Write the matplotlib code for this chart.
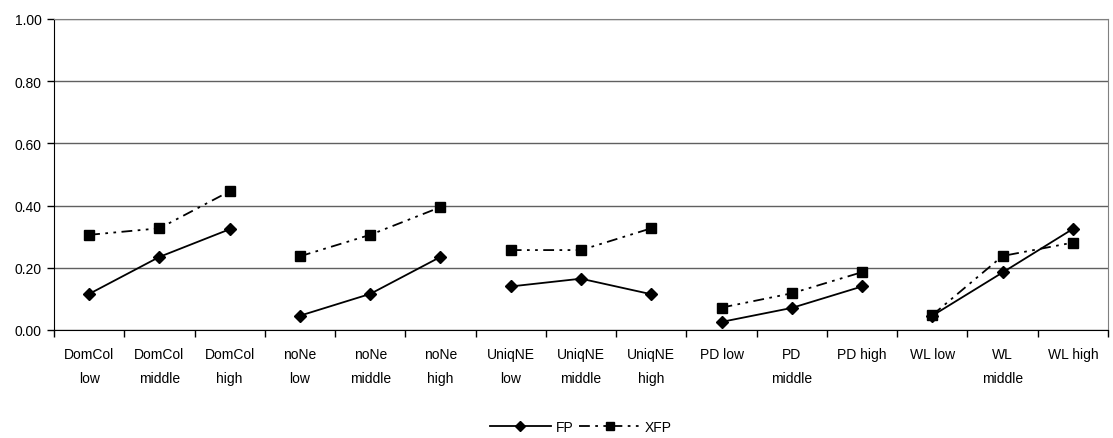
import numpy as np
import matplotlib.pyplot as plt

plt.rcParams['font.family'] = ['Liberation Sans', 'DejaVu Sans']

labels = ['DomCol\nlow', 'DomCol\nmiddle', 'DomCol\nhigh',
          'noNe\nlow', 'noNe\nmiddle', 'noNe\nhigh',
          'UniqNE\nlow', 'UniqNE\nmiddle', 'UniqNE\nhigh',
          'PD low', 'PD\nmiddle', 'PD high',
          'WL low', 'WL\nmiddle', 'WL high']
fp = [0.116, 0.235, 0.324,
      0.046, 0.116, 0.235,
      0.140, 0.165, 0.115,
      0.026, 0.071, 0.140,
      0.046, 0.185, 0.325]
xfp = [0.306, 0.327, 0.446,
       0.237, 0.306, 0.395,
       0.257, 0.257, 0.327,
       0.072, 0.118, 0.186,
       0.048, 0.238, 0.281]
group_size = 3

fig = plt.figure(figsize=(11.13, 4.39), dpi=100)
ax = fig.add_axes([54 / 1113, 1 - 331 / 439, (1108 - 54) / 1113, (331 - 20) / 439])

x = np.arange(len(labels))
for g in range(0, len(labels), group_size):
    sl = slice(g, g + group_size)
    ax.plot(x[sl], fp[sl], color='black', lw=1.3, marker='D', ms=6.5,
            label='FP' if g == 0 else None, zorder=3)
    ax.plot(x[sl], xfp[sl], color='black', lw=1.3, marker='s', ms=7,
            dashes=(6, 3, 1.5, 3, 1.5, 3),
            label='XFP' if g == 0 else None, zorder=3)

ax.set_xlim(-0.5, len(labels) - 0.5)
ax.set_ylim(0, 1.0)
ax.set_yticks(np.arange(0, 1.01, 0.2))
ax.set_yticklabels(['%.2f' % v for v in np.arange(0, 1.01, 0.2)], fontsize=10)
ax.yaxis.grid(True, color='#606060', lw=1)
ax.set_axisbelow(True)

# category ticks sit on the boundaries, labels in the middle
ax.set_xticks(np.arange(-0.5, len(labels), 1.0))
ax.set_xticklabels([])
ax.set_xticks(x, minor=True)
ax.set_xticklabels(labels, minor=True, fontsize=10, linespacing=1.95)
ax.tick_params(axis='x', which='minor', length=0, pad=12)
ax.tick_params(axis='x', which='major', length=5, width=1, direction='out')
ax.tick_params(axis='y', length=5, width=1, direction='out', pad=4)

for s in ['top', 'right']:
    ax.spines[s].set_color('#808080')
for s in ['left', 'bottom']:
    ax.spines[s].set_color('black')

fig.legend(loc='center', bbox_to_anchor=(581 / 1113, 1 - 428 / 439), ncol=2,
           frameon=False, fontsize=10, handlelength=4.4, columnspacing=0.4,
           handletextpad=0.35, markerscale=0.85)

fig.savefig('out.png', dpi=100)
